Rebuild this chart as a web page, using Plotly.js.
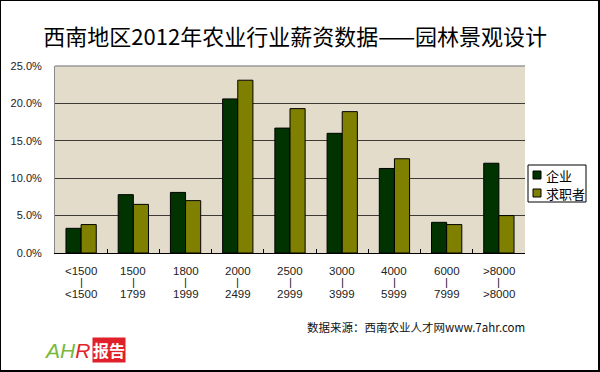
<!DOCTYPE html>
<html>
<head>
<meta charset="utf-8">
<script src="https://cdn.plot.ly/plotly-3.0.1.min.js"></script>
<style>
  html, body { margin: 0; padding: 0; background: #ffffff; }
  #wrap { position: relative; width: 600px; height: 372px; }
  #chart { width: 600px; height: 372px; }
  #frame { position: absolute; left: 0; top: 0; width: 600px; height: 372px; box-sizing: border-box;
           border-left: 1px solid #000; border-top: 1px solid #000; border-right: 2px solid #000; border-bottom: 2px solid #000;
           pointer-events: none; }
</style>
</head>
<body>
<div id="wrap"><div id="chart"></div><div id="frame"></div></div>
<script>
// ---- data ----
const rangeLow  = ['<1500', '1500', '1800', '2000', '2500', '3000', '4000', '6000', '>8000'];
const rangeHigh = ['<1500', '1799', '1999', '2499', '2999', '3999', '5999', '7999', '>8000'];
const seriesNames = ['企业', '求职者'];
const enterprise = [3.3, 7.8, 8.1, 20.6, 16.7, 16.0, 11.3, 4.1, 12.0];
const seeker     = [3.8, 6.5, 7.0, 23.1, 19.3, 18.9, 12.6, 3.8, 5.0];
const seriesColors = ['#003300', '#808000'];
const titleText = '西南地区2012年农业行业薪资数据——园林景观设计';
const sourceText = '数据来源：西南农业人才网www.7ahr.com';

// ---- helpers: pixel -> paper coordinates (plot area 55..525 x, 66..253 y) ----
const PX0 = 55, PW = 470, PY0 = 253, PH = 187;
const px = v => (v - PX0) / PW;
const py = v => (PY0 - v) / PH;
const esc = s => s.replace(/</g, '&lt;').replace(/>/g, '&gt;');
const cats = rangeLow.map((l, i) => l + '~' + rangeHigh[i]);
const labelFont = { family: 'Liberation Sans, Arial, sans-serif', size: 11.5, color: '#222' };

const traces = [enterprise, seeker].map((vals, k) => ({
  type: 'bar',
  name: seriesNames[k],
  x: cats,
  y: vals,
  marker: { color: seriesColors[k], line: { color: '#000', width: 1 } },
  showlegend: false,
  hoverinfo: 'x+y+name'
}));

const annotations = [];
cats.forEach((c, i) => {
  annotations.push({ xref: 'x', yref: 'paper', x: c, y: py(271), text: esc(rangeLow[i]), showarrow: false,
                     font: labelFont, xanchor: 'center', yanchor: 'middle' });
  annotations.push({ xref: 'x', yref: 'paper', x: c, y: py(282), text: '|', showarrow: false,
                     font: labelFont, xanchor: 'center', yanchor: 'middle' });
  annotations.push({ xref: 'x', yref: 'paper', x: c, y: py(294), text: esc(rangeHigh[i]), showarrow: false,
                     font: labelFont, xanchor: 'center', yanchor: 'middle' });
});

const shapes = [
  { type: 'line', xref: 'paper', yref: 'paper', x0: 0, x1: 1, y0: 1, y1: 1,
    line: { color: '#9a9a9a', width: 1.5 } },
  // legend frame
  { type: 'rect', xref: 'paper', yref: 'paper', x0: px(528), x1: px(586), y0: py(165), y1: py(202),
    fillcolor: '#ffffff', line: { color: '#000', width: 1 } }
];

// legend entries built from the series names/colours
seriesNames.forEach((n, k) => {
  const cy = 175 + k * 18;
  shapes.push({ type: 'rect', xref: 'paper', yref: 'paper',
    x0: px(533), x1: px(541), y0: py(cy - 4), y1: py(cy + 4),
    fillcolor: seriesColors[k], line: { color: '#000', width: 1 } });
  annotations.push({ xref: 'paper', yref: 'paper', x: px(544), y: py(cy),
    xanchor: 'left', yanchor: 'middle', showarrow: false, text: n,
    font: { family: 'Noto Sans CJK SC, sans-serif', size: 13, color: '#000' } });
});

// source line
annotations.push({
  xref: 'paper', yref: 'paper', x: px(305), y: py(327),
  xanchor: 'left', yanchor: 'middle', showarrow: false, text: sourceText,
  font: { family: 'Noto Sans CJK SC, sans-serif', size: 11.5, color: '#111' }
});

// logo
annotations.push({
  xref: 'paper', yref: 'paper', x: px(42), y: py(350),
  xanchor: 'left', yanchor: 'middle', showarrow: false,
  text: '<i><span style="color:#78b83c">AH</span><span style="color:#e2242a">R</span></i>',
  font: { family: 'Liberation Sans Narrow, Liberation Sans, Arial, sans-serif', size: 21 }
});
annotations.push({
  xref: 'paper', yref: 'paper', x: px(92), y: py(350),
  xanchor: 'left', yanchor: 'middle', showarrow: false,
  text: '<b>报告</b>', bgcolor: '#e0202a', borderpad: 0,
  font: { family: 'Noto Sans CJK SC, sans-serif', size: 16, color: '#ffffff' }
});

const layout = {
  width: 600, height: 372,
  margin: { l: 55, r: 75, t: 66, b: 119, autoexpand: false },
  paper_bgcolor: '#ffffff',
  plot_bgcolor: '#e3dccb',
  title: {
    text: titleText, x: 0.492, xref: 'container', y: 1 - 37 / 372, yref: 'container',
    xanchor: 'center', yanchor: 'middle',
    font: { family: 'Noto Sans CJK SC, sans-serif', size: 22, color: '#000' }
  },
  barmode: 'group',
  bargap: 0.42,
  bargroupgap: 0,
  xaxis: {
    type: 'category', categoryorder: 'array', categoryarray: cats,
    showticklabels: false, ticks: 'inside', tickson: 'boundaries', ticklen: 4,
    tickcolor: '#000', tickwidth: 1,
    showline: true, linecolor: '#000', linewidth: 1, showgrid: false, zeroline: false
  },
  yaxis: {
    range: [0, 25], dtick: 5, tick0: 0, tickformat: '.1f', ticksuffix: '%',
    showgrid: true, gridcolor: '#3d3a35', gridwidth: 1.3,
    showline: true, linecolor: '#8a8a8a', linewidth: 1, zeroline: false, ticks: '',
    ticklabelstandoff: 10,
    tickfont: { family: 'Liberation Sans, Arial, sans-serif', size: 11, color: '#222' }
  },
  shapes: shapes,
  annotations: annotations,
  showlegend: false
};

Plotly.newPlot('chart', traces, layout, { displayModeBar: false, staticPlot: true });
</script>
</body>
</html>
